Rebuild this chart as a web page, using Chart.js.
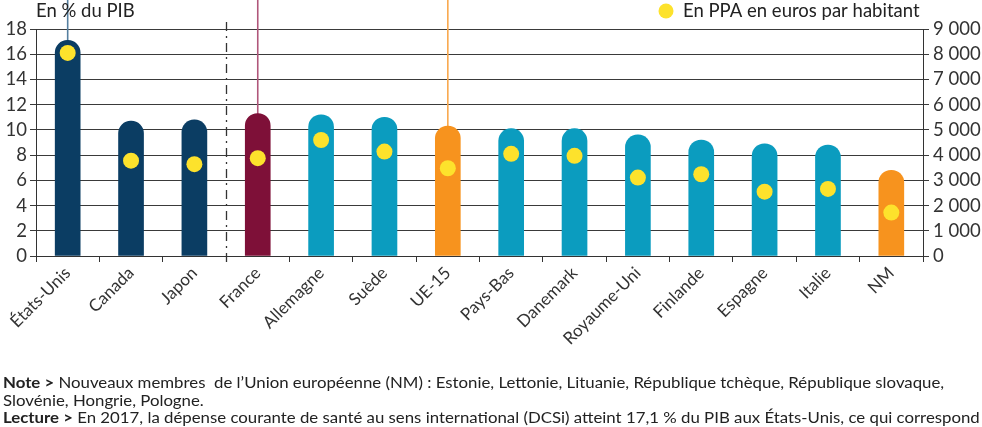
<!DOCTYPE html>
<html lang="fr">
<head>
<meta charset="utf-8">
<script src="https://cdn.jsdelivr.net/npm/chart.js@4/dist/chart.umd.min.js"></script>
<style>
  html, body { margin: 0; padding: 0; background: #fff; }
  #wrap { position: relative; width: 982px; height: 427px; overflow: hidden; }
  #notes { position: absolute; left: 3px; top: 374px; font: 15px Lato, sans-serif; color: #222; line-height: 17.5px;
           white-space: nowrap; transform: scaleX(1.12); transform-origin: left top; }
  #notes b { font-weight: 700; }
</style>
</head>
<body>
<div id="wrap">
  <canvas id="myChart" width="982" height="427"></canvas>
  <div id="notes">
    <div><b>Note &gt;</b> Nouveaux membres&nbsp; de l’Union européenne (NM) : Estonie, Lettonie, Lituanie, République tchèque, République slovaque,</div>
    <div>Slovénie, Hongrie, Pologne.</div>
    <div><b>Lecture &gt;</b> En 2017, la dépense courante de santé au sens international (DCSi) atteint 17,1 % du PIB aux États-Unis, ce qui correspond</div>
  </div>
</div>
<script>
const categories = ['États-Unis', 'Canada', 'Japon', 'France', 'Allemagne', 'Suède', 'UE-15', 'Pays-Bas', 'Danemark', 'Royaume-Uni', 'Finlande', 'Espagne', 'Italie', 'NM'];
// DCSi en % du PIB
const pctPib = [17.1, 10.7, 10.8, 11.3, 11.2, 11.0, 10.3, 10.1, 10.1, 9.6, 9.2, 8.9, 8.8, 6.8];
// En PPA en euros par habitant
const ppaHab = [8050, 3780, 3640, 3880, 4600, 4140, 3480, 4050, 3970, 3110, 3240, 2550, 2660, 1720];
const leftTicks = [0, 2, 4, 6, 8, 10, 12, 14, 16, 18];
const rightTicks = [0, 1000, 2000, 3000, 4000, 5000, 6000, 7000, 8000, 9000];

const NAVY = '#0b3d63', MAROON = '#7e1038', TEAL = '#0b9cbf', ORANGE = '#f7931e', YELLOW = '#fde22c';
const barColors = categories.map((c, i) => {
  if (i < 3) return NAVY;
  if (c === 'France') return MAROON;
  if (c === 'UE-15' || c === 'NM') return ORANGE;
  return TEAL;
});
// thin lines going up from some bars
const leaders = { 'États-Unis': '#557fa0', 'France': '#b0567a', 'UE-15': '#f9a94e' };

const extras = {
  id: 'extras',
  beforeDatasetsDraw(chart) {
    const { ctx, scales: { x, y } } = chart;
    ctx.save();
    ctx.lineWidth = 1.6;
    categories.forEach((c, i) => {
      if (!leaders[c]) return;
      const px = x.getPixelForValue(i);
      ctx.strokeStyle = leaders[c];
      ctx.beginPath();
      ctx.moveTo(px, 0);
      ctx.lineTo(px, y.getPixelForValue(pctPib[i]) + 5);
      ctx.stroke();
    });
    // separator between Japon and France
    const sx = Math.round((x.getPixelForValue(2) + x.getPixelForValue(3)) / 2) + 0.5;
    ctx.strokeStyle = '#333';
    ctx.lineWidth = 1.3;
    ctx.setLineDash([9, 5, 2, 5]);
    ctx.beginPath();
    ctx.moveTo(sx, 22);
    ctx.lineTo(sx, y.bottom + 7);
    ctx.stroke();
    ctx.restore();
  },
  afterDraw(chart) {
    const { ctx, chartArea } = chart;
    ctx.save();
    ctx.fillStyle = '#222';
    ctx.font = '18.5px Lato, sans-serif';
    ctx.textBaseline = 'alphabetic';
    ctx.fillText('En % du PIB', chartArea.left, 17);
    ctx.fillText('En PPA en euros par habitant', 683, 17);
    ctx.fillStyle = YELLOW;
    ctx.beginPath();
    ctx.arc(666, 11, 7.5, 0, Math.PI * 2);
    ctx.fill();
    ctx.restore();
  }
};

const ctx = document.getElementById('myChart').getContext('2d');
const myChart = new Chart(ctx, {
  data: {
    labels: categories,
    datasets: [{
      type: 'line',
      label: 'En PPA en euros par habitant',
      data: ppaHab,
      yAxisID: 'y2',
      showLine: false,
      pointRadius: 8,
      pointHoverRadius: 8,
      pointBackgroundColor: YELLOW,
      pointBorderWidth: 0,
      order: 0
    }, {
      type: 'bar',
      label: 'En % du PIB',
      data: pctPib,
      yAxisID: 'y',
      backgroundColor: barColors,
      barThickness: 25,
      borderRadius: 13,
      borderWidth: 0,
      order: 1
    }]
  },
  options: {
    responsive: false,
    animation: false,
    layout: { padding: { top: 29, left: 0, right: 0, bottom: 0 } },
    plugins: {
      legend: { display: false },
      title: { display: false },
      tooltip: { enabled: false }
    },
    scales: {
      x: {
        offset: true,
        grid: { offset: true, drawOnChartArea: false, drawTicks: true, tickLength: 6, color: '#333' },
        border: { display: true, color: '#333' },
        ticks: { minRotation: 45, maxRotation: 45, padding: 1, color: '#333', font: { family: 'Lato', size: 17 } },
        afterFit(scale) { scale.height = 427 - 256; }
      },
      y: {
        position: 'left',
        min: 0, max: 18,
        afterBuildTicks(scale) { scale.ticks = leftTicks.map(v => ({ value: v })); },
        grid: { color: '#3a3a3a', tickLength: 6 },
        border: { display: true, color: '#333' },
        ticks: { padding: 3, color: '#333', font: { family: 'Lato', size: 18.5 } },
        afterFit(scale) { scale.width = 36; }
      },
      y2: {
        position: 'right',
        min: 0, max: 9000,
        afterBuildTicks(scale) { scale.ticks = rightTicks.map(v => ({ value: v })); },
        grid: { drawOnChartArea: false, color: '#3a3a3a', tickLength: 6 },
        border: { display: true, color: '#333' },
        ticks: {
          padding: 4, color: '#333', font: { family: 'Lato', size: 18.5 },
          callback: v => v.toLocaleString('fr-FR').replace(/\s/g, ' ')
        },
        afterFit(scale) { scale.width = 982 - 923; }
      }
    }
  },
  plugins: [extras]
});
</script>
</body>
</html>
